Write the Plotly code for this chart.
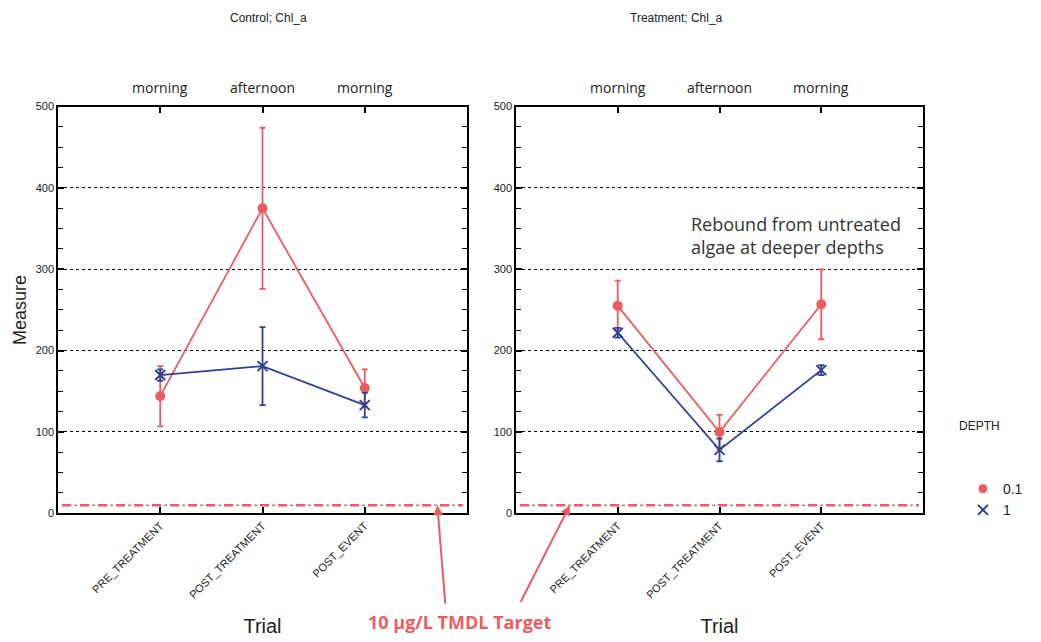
import plotly.graph_objects as go

# Trial categories and the time of day each sample was taken
trials = ["PRE_TREATMENT", "POST_TREATMENT", "POST_EVENT"]
time_of_day = ["morning", "afternoon", "morning"]

# Control site, Chl_a means and error bars by depth
control_d01 = [144, 375, 154]
control_d01_err = [37, 99, 23]
control_d1 = [170, 181, 133]
control_d1_err = [7, 48, 15]

# Treatment site, Chl_a means and error bars by depth
treat_d01 = [255, 100, 257]
treat_d01_err = [31, 21, 43]
treat_d1 = [222, 78, 176]
treat_d1_err = [6, 14, 6]

tmdl_target = 10
y_ticks = [0, 100, 200, 300, 400, 500]

RED = "#ee5b5f"
BLUE = "#2f3f94"
xpos = list(range(len(trials)))

fig = go.Figure()


def add_series(xa, ya, y, err, color, symbol, size):
    fig.add_trace(go.Scatter(
        x=xpos, y=y, xaxis=xa, yaxis=ya, mode="lines+markers",
        line=dict(color=color, width=1.8),
        marker=dict(color=color, symbol=symbol, size=size,
                    line=dict(color=color, width=2)),
        error_y=dict(type="data", array=err, visible=True, color=color,
                     thickness=1.8, width=3),
        showlegend=False, hoverinfo="skip"))


add_series("x", "y", control_d01, control_d01_err, RED, "circle", 8)
add_series("x", "y", control_d1, control_d1_err, BLUE, "x-thin", 10)
add_series("x2", "y2", treat_d01, treat_d01_err, RED, "circle", 8)
add_series("x2", "y2", treat_d1, treat_d1_err, BLUE, "x-thin", 10)

# Legend entries (markers only)
fig.add_trace(go.Scatter(x=[None], y=[None], mode="markers", name="0.1",
                         marker=dict(color=RED, symbol="circle", size=9)))
fig.add_trace(go.Scatter(x=[None], y=[None], mode="markers", name="1",
                         marker=dict(color=BLUE, symbol="x-thin", size=10,
                                     line=dict(color=BLUE, width=2))))

# TMDL target line across both panels
for xa, ya in (("x", "y"), ("x2", "y2")):
    fig.add_shape(type="line", xref=f"{xa} domain", yref=ya, x0=0.01, x1=0.99,
                  y0=tmdl_target, y1=tmdl_target,
                  line=dict(color="#555", width=1, dash="dot"))
    fig.add_shape(type="line", xref=f"{xa} domain", yref=ya, x0=0.01, x1=0.99,
                  y0=tmdl_target, y1=tmdl_target,
                  line=dict(color=RED, width=2.4, dash="dash"))

W, H = 1041, 642
left_dom = [58 / W, 467 / W]
right_dom = [516 / W, 923 / W]
y_dom = [1 - 517 / H, 1 - 102.5 / H]

tickfont = dict(family="Liberation Sans", size=11, color="#222")

xbase = dict(range=[-1, 3], tickvals=xpos, ticktext=trials, tickangle=-45,
             ticks="inside", ticklen=7, tickwidth=1.5, tickcolor="black",
             showline=True, linecolor="black", linewidth=1.6, mirror="ticks",
             showgrid=False, zeroline=False,
             tickfont=dict(family="Liberation Sans", size=11, color="#222"),
             title=dict(text="Trial", font=dict(family="Liberation Sans", size=20, color="#222"),
                        standoff=19))
ybase = dict(range=[0, 500], tickvals=y_ticks, ticks="inside", ticklen=6,
             tickwidth=1.5, tickcolor="black", showline=True, linecolor="black",
             linewidth=1.6, mirror="ticks", showgrid=True, gridcolor="black",
             griddash="dot", gridwidth=1.2, zeroline=False, tickfont=tickfont,
             minor=dict(dtick=25, ticks="inside", ticklen=5, tickcolor="black",
                        tickwidth=1.2, showgrid=False))

fig.update_layout(
    width=W, height=H, margin=dict(l=0, r=0, t=0, b=0),
    paper_bgcolor="white", plot_bgcolor="white",
    xaxis=dict(xbase, domain=left_dom, anchor="y"),
    yaxis=dict(ybase, domain=y_dom, anchor="x",
               title=dict(text="Measure", font=dict(family="Liberation Sans", size=18, color="#222"),
                          standoff=4)),
    xaxis2=dict(xbase, domain=right_dom, anchor="y2"),
    yaxis2=dict(ybase, domain=y_dom, anchor="x2"),
    legend=dict(x=0.925, y=1 - 476 / H, xanchor="left", yanchor="top",
                font=dict(family="Liberation Sans", size=14, color="#222"),
                bgcolor="rgba(0,0,0,0)", tracegroupgap=0),
    showlegend=True,
)

# Time-of-day labels above each trial
for xa in ("x", "x2"):
    for xv, label in zip(xpos, time_of_day):
        fig.add_annotation(text=label, xref=xa, yref="paper", x=xv, y=1 - 83 / H,
                           yanchor="middle", showarrow=False,
                           font=dict(family="Open Sans", size=14, color="#222"))

title_font = dict(family="Liberation Sans", size=12, color="#222")
fig.add_annotation(text="Control; Chl_a", xref="paper", yref="paper",
                   x=228 / W, y=1 - 12 / H, yanchor="middle", showarrow=False, font=title_font)
fig.add_annotation(text="Treatment; Chl_a", xref="paper", yref="paper",
                   x=676 / W, y=1 - 12 / H, yanchor="middle", showarrow=False, font=title_font)
fig.add_annotation(text="DEPTH", xref="paper", yref="paper",
                   x=1002 / W, y=1 - 428 / H, yanchor="middle", showarrow=False,
                   font=dict(family="Liberation Sans", size=12, color="#222"))

fig.add_annotation(text="Rebound from untreated<br>algae at deeper depths",
                   xref="paper", yref="paper", x=689 / W, y=1 - 234 / H,
                   xanchor="left", yanchor="middle", align="left", showarrow=False,
                   font=dict(family="Open Sans", size=18, color="#333"))

fig.add_annotation(text="<b>10 µg/L TMDL Target</b>", xref="paper", yref="paper",
                   x=459 / W, y=1 - 628 / H, yanchor="middle", showarrow=False,
                   font=dict(family="Open Sans", size=18, color=RED))

# Arrows from the label to the target line in each panel
fig.add_annotation(x=2.71, y=tmdl_target, xref="x", yref="y", text="",
                   showarrow=True, axref="pixel", ayref="pixel", ax=8, ay=100,
                   arrowhead=2, arrowsize=1, arrowwidth=2, arrowcolor=RED)
fig.add_annotation(x=-0.47, y=tmdl_target, xref="x2", yref="y2", text="",
                   showarrow=True, axref="pixel", ayref="pixel", ax=-50, ay=98,
                   arrowhead=2, arrowsize=1, arrowwidth=2, arrowcolor=RED)

fig.write_html("out.html")
